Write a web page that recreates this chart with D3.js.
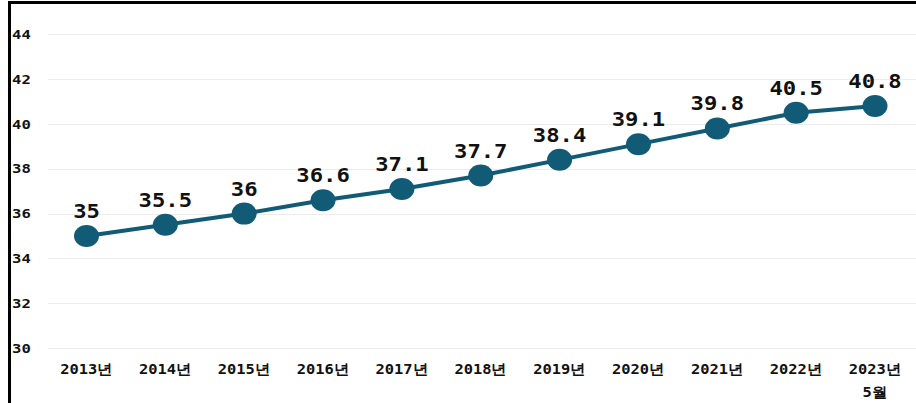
<!DOCTYPE html>
<html>
<head>
<meta charset="utf-8">
<script src="https://cdn.jsdelivr.net/npm/d3@7"></script>
<style>
  body { margin: 0; background: #fff; }
  svg { display: block; }
</style>
</head>
<body>
<svg id="chart" width="916" height="403"></svg>
<script>
// Data
const years = ["2013년", "2014년", "2015년", "2016년", "2017년", "2018년", "2019년", "2020년", "2021년", "2022년", "2023년"];
const subLabels = ["", "", "", "", "", "", "", "", "", "", "5월"];
const values = [35, 35.5, 36, 36.6, 37.1, 37.7, 38.4, 39.1, 39.8, 40.5, 40.8];
const yTicks = [30, 32, 34, 36, 38, 40, 42, 44];

const svg = d3.select("#chart");
const width = +svg.attr("width");
const height = +svg.attr("height");
const color = "#115b77";
const mono = "'DejaVu Sans Mono', monospace";
const stretch = 1.17; // the original is a little wider than tall

// Scales
const x = d3.scalePoint()
    .domain(years)
    .range([86.5, 875]);

const y = d3.scaleLinear()
    .domain([30, 44])
    .range([348, 34.4]);

// Grid lines
svg.append("g")
    .selectAll("line")
    .data(yTicks)
    .join("line")
    .attr("x1", 48)
    .attr("x2", width)
    .attr("y1", d => Math.round(y(d)) + 0.5)
    .attr("y2", d => Math.round(y(d)) + 0.5)
    .attr("stroke", "#ececec")
    .attr("stroke-width", 1);

// Y tick labels
svg.append("g")
    .selectAll("text")
    .data(yTicks)
    .join("text")
    .attr("transform", d => `translate(12,${y(d) + 4.5}) scale(1.2,1)`)
    .attr("font-family", mono)
    .attr("font-weight", "bold")
    .attr("font-size", "13px")
    .attr("fill", "#111")
    .text(d => d);

// X tick labels
const xLabels = svg.append("g")
    .selectAll("g")
    .data(years.map((d, i) => ({ year: d, sub: subLabels[i] })))
    .join("g")
    .attr("transform", d => `translate(${x(d.year)},0)`);

xLabels.append("text")
    .attr("transform", "translate(0,374) scale(1.1,1)")
    .attr("text-anchor", "middle")
    .attr("font-family", mono)
    .attr("font-weight", "bold")
    .attr("font-size", "14px")
    .attr("fill", "#111")
    .text(d => d.year);

xLabels.append("text")
    .attr("transform", "translate(0,397) scale(1.1,1)")
    .attr("text-anchor", "middle")
    .attr("font-family", mono)
    .attr("font-weight", "bold")
    .attr("font-size", "14px")
    .attr("fill", "#111")
    .text(d => d.sub);

// Line
const line = d3.line()
    .x((d, i) => x(years[i]))
    .y(d => y(d));

svg.append("path")
    .datum(values)
    .attr("fill", "none")
    .attr("stroke", color)
    .attr("stroke-width", 4)
    .attr("d", line);

// Markers
svg.append("g")
    .selectAll("ellipse")
    .data(values)
    .join("ellipse")
    .attr("cx", (d, i) => x(years[i]))
    .attr("cy", d => y(d))
    .attr("rx", 12.5)
    .attr("ry", 11)
    .attr("fill", color);

// Value labels
svg.append("g")
    .selectAll("text")
    .data(values)
    .join("text")
    .attr("transform", (d, i) => `translate(${x(years[i])},${y(d) - 18}) scale(${stretch},1)`)
    .attr("text-anchor", "middle")
    .attr("font-family", mono)
    .attr("font-weight", "bold")
    .attr("font-size", "19px")
    .attr("fill", "#111")
    .text(d => d);

// Frame (top and left only)
svg.append("line")
    .attr("x1", 8).attr("x2", width)
    .attr("y1", 2.5).attr("y2", 2.5)
    .attr("stroke", "#000").attr("stroke-width", 3);
svg.append("line")
    .attr("x1", 9.5).attr("x2", 9.5)
    .attr("y1", 1).attr("y2", height)
    .attr("stroke", "#000").attr("stroke-width", 3);
</script>
</body>
</html>
